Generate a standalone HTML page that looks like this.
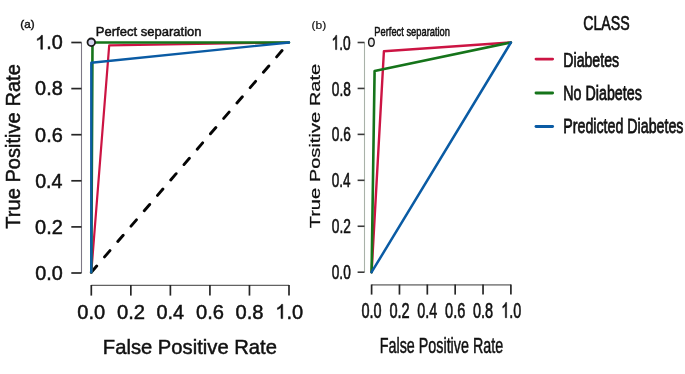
<!DOCTYPE html>
<html><head><meta charset="utf-8"><style>
html,body{margin:0;padding:0;background:#fff;}
body{width:685px;height:374px;overflow:hidden;}
svg{display:block;filter:blur(0.4px);}
text,.g1{font-family:"Liberation Sans",sans-serif;stroke:#111;stroke-width:0.5px;}
</style></head><body>
<svg width="685" height="374" viewBox="0 0 685 374">
<rect width="685" height="374" fill="#fff"/>
<line x1="81.5" y1="273.00" x2="81.5" y2="42.50" stroke="#7d7886" stroke-width="1.1"/>
<line x1="71.3" y1="273.00" x2="81.5" y2="273.00" stroke="#262626" stroke-width="1.7"/>
<line x1="71.3" y1="226.90" x2="81.5" y2="226.90" stroke="#262626" stroke-width="1.7"/>
<line x1="71.3" y1="180.80" x2="81.5" y2="180.80" stroke="#262626" stroke-width="1.7"/>
<line x1="71.3" y1="134.70" x2="81.5" y2="134.70" stroke="#262626" stroke-width="1.7"/>
<line x1="71.3" y1="88.60" x2="81.5" y2="88.60" stroke="#262626" stroke-width="1.7"/>
<line x1="71.3" y1="42.50" x2="81.5" y2="42.50" stroke="#262626" stroke-width="1.7"/>
<line x1="91.30" y1="285.3" x2="289.00" y2="285.3" stroke="#626262" stroke-width="1.2"/>
<line x1="91.30" y1="285" x2="91.30" y2="295.6" stroke="#262626" stroke-width="1.7"/>
<line x1="130.84" y1="285" x2="130.84" y2="295.6" stroke="#262626" stroke-width="1.7"/>
<line x1="170.38" y1="285" x2="170.38" y2="295.6" stroke="#262626" stroke-width="1.7"/>
<line x1="209.92" y1="285" x2="209.92" y2="295.6" stroke="#262626" stroke-width="1.7"/>
<line x1="249.46" y1="285" x2="249.46" y2="295.6" stroke="#262626" stroke-width="1.7"/>
<line x1="289.00" y1="285" x2="289.00" y2="295.6" stroke="#262626" stroke-width="1.7"/>
<line x1="91.30" y1="272.30" x2="289.00" y2="42.50" stroke="#050505" stroke-width="2.9" stroke-dasharray="8.3 12" stroke-linecap="round"/>
<polyline points="91.30,272.30 109.2,45.3 289.00,42.50" fill="none" stroke="#cc1443" stroke-width="2.2" stroke-linejoin="round" stroke-linecap="round"/>
<polyline points="91.30,272.30 92.5,42.50 289.00,42.50" fill="none" stroke="#15741a" stroke-width="2.6" stroke-linejoin="round" stroke-linecap="round"/>
<polyline points="91.30,272.30 91.30,62.8 289.00,42.50" fill="none" stroke="#0a5ba4" stroke-width="2.4" stroke-linejoin="round" stroke-linecap="round"/>
<circle cx="91.3" cy="42.3" r="3.8" fill="#d5d5ee" stroke="#1a1a1a" stroke-width="1.8"/>
<line x1="364.5" y1="272.20" x2="364.5" y2="42.50" stroke="#a9b2a9" stroke-width="1.1"/>
<line x1="357.6" y1="272.20" x2="364.5" y2="272.20" stroke="#3a3a3a" stroke-width="1.6"/>
<line x1="357.6" y1="226.26" x2="364.5" y2="226.26" stroke="#3a3a3a" stroke-width="1.6"/>
<line x1="357.6" y1="180.32" x2="364.5" y2="180.32" stroke="#3a3a3a" stroke-width="1.6"/>
<line x1="357.6" y1="134.38" x2="364.5" y2="134.38" stroke="#3a3a3a" stroke-width="1.6"/>
<line x1="357.6" y1="88.44" x2="364.5" y2="88.44" stroke="#3a3a3a" stroke-width="1.6"/>
<line x1="357.6" y1="42.50" x2="364.5" y2="42.50" stroke="#3a3a3a" stroke-width="1.6"/>
<line x1="371.60" y1="284.9" x2="510.90" y2="284.9" stroke="#8c8c8c" stroke-width="1.6"/>
<line x1="371.60" y1="284.5" x2="371.60" y2="294.6" stroke="#262626" stroke-width="1.7"/>
<line x1="399.46" y1="284.5" x2="399.46" y2="294.6" stroke="#262626" stroke-width="1.7"/>
<line x1="427.32" y1="284.5" x2="427.32" y2="294.6" stroke="#262626" stroke-width="1.7"/>
<line x1="455.18" y1="284.5" x2="455.18" y2="294.6" stroke="#262626" stroke-width="1.7"/>
<line x1="483.04" y1="284.5" x2="483.04" y2="294.6" stroke="#262626" stroke-width="1.7"/>
<line x1="510.90" y1="284.5" x2="510.90" y2="294.6" stroke="#262626" stroke-width="1.7"/>
<polyline points="371.60,272.20 383.9,51.3 510.90,42.50" fill="none" stroke="#cc1443" stroke-width="2.4" stroke-linejoin="round" stroke-linecap="round"/>
<polyline points="371.60,272.20 374.6,71.0 510.90,42.50" fill="none" stroke="#15741a" stroke-width="2.6" stroke-linejoin="round" stroke-linecap="round"/>
<polyline points="371.60,272.20 510.90,42.50" fill="none" stroke="#0a5ba4" stroke-width="2.5" stroke-linejoin="round" stroke-linecap="round"/>
<ellipse cx="371.4" cy="42.2" rx="2.8" ry="4.0" fill="#ececec" stroke="#1a1a1a" stroke-width="1.4"/>
<line x1="536.0" y1="59.1" x2="552.6" y2="59.1" stroke="#cc1443" stroke-width="2.9" stroke-linecap="round"/>
<line x1="536.0" y1="93.0" x2="552.6" y2="93.0" stroke="#15741a" stroke-width="2.9" stroke-linecap="round"/>
<line x1="536.0" y1="126.5" x2="552.6" y2="126.5" stroke="#0a5ba4" stroke-width="2.9" stroke-linecap="round"/>
<g style="filter:grayscale(1)">
<text transform="translate(35.13,279.85) scale(0.9809,1)" font-size="20.20" fill="#111">0.0</text>
<text transform="translate(35.12,233.75) scale(0.9893,1)" font-size="20.20" fill="#111">0.2</text>
<text transform="translate(35.13,187.65) scale(0.9736,1)" font-size="20.20" fill="#111">0.4</text>
<text transform="translate(35.12,141.55) scale(0.9845,1)" font-size="20.20" fill="#111">0.6</text>
<text transform="translate(35.12,95.45) scale(0.9842,1)" font-size="20.20" fill="#111">0.8</text>
<g transform="translate(35.14,49.35) scale(0.9802,1)"><path class="g1" d="M7.53 0.00H5.75V-10.92Q5.11 -10.33 4.06 -9.74T2.20 -8.85V-10.51Q3.68 -11.19 4.78 -12.14T6.35 -14.01H7.53Z" fill="#111"/><text x="11.24" font-size="20.20" fill="#111">.0</text></g>
<text transform="translate(77.37,318.60) scale(0.9712,1)" font-size="20.64" fill="#111">0.0</text>
<text transform="translate(116.90,318.60) scale(0.9796,1)" font-size="20.64" fill="#111">0.2</text>
<text transform="translate(156.45,318.60) scale(0.9640,1)" font-size="20.64" fill="#111">0.4</text>
<text transform="translate(195.98,318.60) scale(0.9748,1)" font-size="20.64" fill="#111">0.6</text>
<text transform="translate(235.52,318.60) scale(0.9745,1)" font-size="20.64" fill="#111">0.8</text>
<g transform="translate(275.27,318.60) scale(0.9712,1)"><path class="g1" d="M7.69 0.00H5.88V-11.16Q5.22 -10.55 4.15 -9.95T2.25 -9.04V-10.73Q3.76 -11.43 4.89 -12.41T6.49 -14.31H7.69Z" fill="#111"/><text x="11.48" font-size="20.64" fill="#111">.0</text></g>
<text transform="translate(102.84,354.10) scale(0.9592,1)" font-size="21.08" fill="#111">False Positive Rate</text>
<text transform="translate(19.50,228.75) rotate(-90) scale(0.9677,1)" font-size="20.78" fill="#111">True Positive Rate</text>
<text transform="translate(20.28,27.98) scale(0.9963,1)" font-size="11.70" fill="#111" style="stroke-width:0.4px">(a)</text>
<text transform="translate(95.83,35.60) scale(0.9543,1)" font-size="13.66" fill="#111">Perfect separation</text>
<text transform="translate(331.77,279.30) scale(0.6610,1)" font-size="20.64" fill="#111" style="stroke-width:0.6px">0.0</text>
<text transform="translate(331.76,233.36) scale(0.6667,1)" font-size="20.64" fill="#111" style="stroke-width:0.6px">0.2</text>
<text transform="translate(331.77,187.42) scale(0.6561,1)" font-size="20.64" fill="#111" style="stroke-width:0.6px">0.4</text>
<text transform="translate(331.77,141.48) scale(0.6635,1)" font-size="20.64" fill="#111" style="stroke-width:0.6px">0.6</text>
<text transform="translate(331.77,95.54) scale(0.6632,1)" font-size="20.64" fill="#111" style="stroke-width:0.6px">0.8</text>
<g transform="translate(331.60,49.60) scale(0.6670,1)"><path class="g1" d="M7.69 0.00H5.88V-11.16Q5.22 -10.55 4.15 -9.95T2.25 -9.04V-10.73Q3.76 -11.43 4.89 -12.41T6.49 -14.31H7.69Z" fill="#111" style="stroke-width:0.6px"/><text x="11.48" font-size="20.64" fill="#111" style="stroke-width:0.6px">.0</text></g>
<text transform="translate(361.53,317.70) scale(0.6598,1)" font-size="21.95" fill="#111" style="stroke-width:0.65px">0.0</text>
<text transform="translate(389.39,317.70) scale(0.6655,1)" font-size="21.95" fill="#111" style="stroke-width:0.65px">0.2</text>
<text transform="translate(417.26,317.70) scale(0.6549,1)" font-size="21.95" fill="#111" style="stroke-width:0.65px">0.4</text>
<text transform="translate(445.11,317.70) scale(0.6623,1)" font-size="21.95" fill="#111" style="stroke-width:0.65px">0.6</text>
<text transform="translate(472.97,317.70) scale(0.6620,1)" font-size="21.95" fill="#111" style="stroke-width:0.65px">0.8</text>
<g transform="translate(501.23,317.70) scale(0.6566,1)"><path class="g1" d="M8.18 0.00H6.25V-11.86Q5.55 -11.22 4.42 -10.58T2.39 -9.61V-11.41Q4.00 -12.15 5.20 -13.19T6.90 -15.22H8.18Z" fill="#111" style="stroke-width:0.65px"/><text x="12.21" font-size="21.95" fill="#111" style="stroke-width:0.65px">.0</text></g>
<text transform="translate(379.72,353.40) scale(0.6710,1)" font-size="21.37" fill="#111">False Positive Rate</text>
<text transform="translate(320.40,228.35) rotate(-90) scale(1.4121,1)" font-size="14.24" fill="#111" style="stroke-width:0.25px">True Positive Rate</text>
<text transform="translate(311.55,28.56) scale(1.0181,1)" font-size="11.81" fill="#111" style="stroke-width:0.2px">(b)</text>
<text transform="translate(374.34,35.70) scale(0.6973,1)" font-size="13.37" fill="#111" style="stroke-width:0.55px">Perfect separation</text>
<text transform="translate(583.18,29.70) scale(0.6770,1)" font-size="20.93" fill="#111" style="stroke-width:0.7px">CLASS</text>
<text transform="translate(563.34,66.60) scale(0.7096,1)" font-size="19.91" fill="#111" style="stroke-width:0.75px">Diabetes</text>
<text transform="translate(563.33,99.60) scale(0.7009,1)" font-size="20.35" fill="#111" style="stroke-width:0.75px">No Diabetes</text>
<text transform="translate(563.33,133.30) scale(0.6940,1)" font-size="20.49" fill="#111" style="stroke-width:0.75px">Predicted Diabetes</text>
</g>
</svg>
</body></html>
